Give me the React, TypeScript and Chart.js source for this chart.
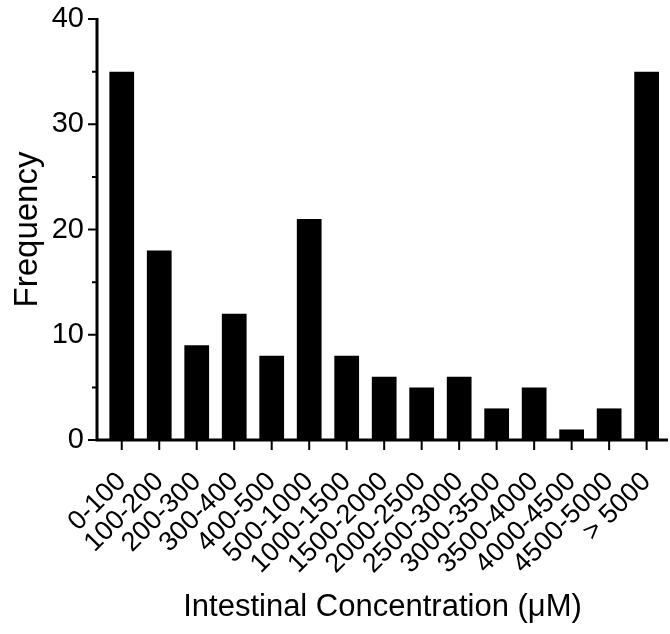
import React, { useEffect, useRef } from "react";
import { Chart, registerables } from "chart.js";

Chart.register(...registerables);

// Concentration bins and how many samples fall in each
const categories = [
  "0-100",
  "100-200",
  "200-300",
  "300-400",
  "400-500",
  "500-1000",
  "1000-1500",
  "1500-2000",
  "2000-2500",
  "2500-3000",
  "3000-3500",
  "3500-4000",
  "4000-4500",
  "4500-5000",
  "> 5000",
];
const frequencies = [35, 18, 9, 12, 8, 21, 8, 6, 5, 6, 3, 5, 1, 3, 35];

const yMajorTicks = [0, 10, 20, 30, 40];
const yMinorTicks = [5, 15, 25, 35];

const FONT = "'Liberation Sans', Arial, Helvetica, sans-serif";

// Draws the heavy axis lines and the outward tick marks (long major, short minor)
const axesPlugin = {
  id: "prismAxes",
  afterDraw(chart: any) {
    const { ctx, chartArea } = chart;
    const xs = chart.scales.x;
    const ys = chart.scales.y;
    const left = chartArea.left;
    const bottom = chartArea.bottom;
    ctx.save();
    ctx.strokeStyle = "#000";
    ctx.lineCap = "butt";

    // axis lines
    ctx.lineWidth = 3;
    ctx.beginPath();
    ctx.moveTo(left, ys.getPixelForValue(40) - 1);
    ctx.lineTo(left, bottom + 1.5);
    ctx.moveTo(left - 1.5, bottom);
    ctx.lineTo(chartArea.right, bottom);
    ctx.stroke();

    // y ticks
    ctx.lineWidth = 2;
    ctx.beginPath();
    yMajorTicks.forEach((v) => {
      const py = ys.getPixelForValue(v);
      ctx.moveTo(left - 9, py);
      ctx.lineTo(left, py);
    });
    yMinorTicks.forEach((v) => {
      const py = ys.getPixelForValue(v);
      ctx.moveTo(left - 5, py);
      ctx.lineTo(left, py);
    });
    // x ticks at each bin
    categories.forEach((_, i) => {
      const px = xs.getPixelForValue(i);
      ctx.moveTo(px, bottom);
      ctx.lineTo(px, bottom + 10);
    });
    ctx.stroke();
    ctx.restore();
  },
};

export default function App() {
  const canvasRef = useRef<HTMLCanvasElement | null>(null);

  useEffect(() => {
    document.body.style.margin = "0";
    const canvas = canvasRef.current;
    if (!canvas) return;

    const chart = new Chart(canvas, {
      type: "bar",
      data: {
        datasets: [
          {
            data: frequencies.map((v, i) => ({ x: i, y: v })),
            backgroundColor: "#000",
            borderWidth: 0,
            barPercentage: 0.66,
            categoryPercentage: 1,
          },
        ],
      },
      plugins: [axesPlugin],
      options: {
        animation: false,
        responsive: false,
        maintainAspectRatio: false,
        layout: { padding: { top: 19, right: 2, left: 0, bottom: 0 } },
        plugins: {
          legend: { display: false },
          tooltip: { enabled: false },
        },
        scales: {
          x: {
            type: "linear",
            offset: false,
            min: -0.66,
            max: 14.57,
            afterBuildTicks: (scale: any) => {
              scale.ticks = categories.map((_, i) => ({ value: i }));
            },
            afterFit: (scale: any) => {
              scale.height = 194;
              scale.paddingLeft = 0;
              scale.paddingRight = 0;
            },
            grid: { display: false, drawTicks: false },
            border: { display: false },
            ticks: {
              autoSkip: false,
              minRotation: 45,
              maxRotation: 45,
              padding: 26,
              color: "#000",
              font: { family: FONT, size: 27 },
              callback: (value: any) => categories[Math.round(value)] ?? "",
            },
            title: {
              display: true,
              text: "Intestinal Concentration (μM)",
              color: "#000",
              font: { family: FONT, size: 31 },
              padding: { top: 4, bottom: 8 },
            },
          },
          y: {
            min: 0,
            max: 40,
            afterBuildTicks: (scale: any) => {
              scale.ticks = yMajorTicks.map((v) => ({ value: v }));
            },
            afterFit: (scale: any) => {
              scale.width = 97;
              scale.paddingTop = 0;
              scale.paddingBottom = 0;
            },
            grid: { display: false, drawTicks: false },
            border: { display: false },
            ticks: {
              padding: 13,
              color: "#000",
              font: { family: FONT, size: 29 },
            },
            title: {
              display: true,
              text: "Frequency",
              color: "#000",
              font: { family: FONT, size: 33 },
              padding: { top: 8, bottom: 0 },
            },
          },
        },
      },
    });

    return () => chart.destroy();
  }, []);

  return <canvas ref={canvasRef} width={670} height={634} style={{ display: "block" }} />;
}
